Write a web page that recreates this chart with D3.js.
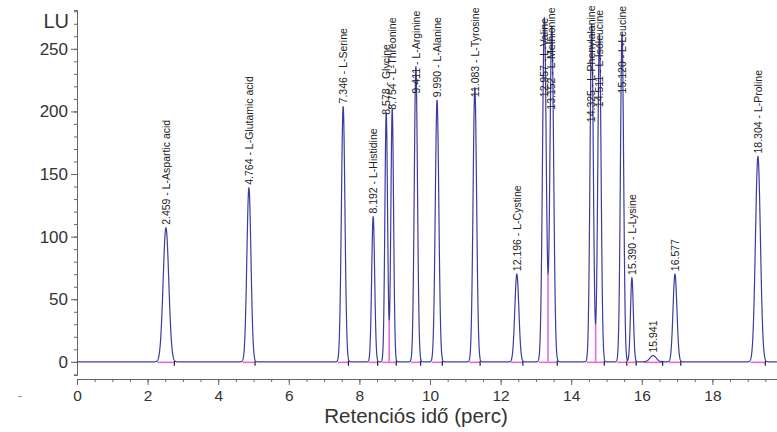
<!DOCTYPE html>
<html>
<head>
<meta charset="utf-8">
<script src="https://cdn.jsdelivr.net/npm/d3@7"></script>
<style>
  body { margin: 0; background: #fff; }
  svg { display: block; font-family: "Liberation Sans", Arial, sans-serif; }
</style>
</head>
<body>
<svg id="chart" width="777" height="432"></svg>
<script>
// peak list (position on the drawn time axis, height in LU, width as sigma in min)
const peakTimes   = [2.52, 4.87, 7.54, 8.39, 8.76, 8.93, 9.60, 10.20, 11.27, 12.46, 13.24, 13.45, 14.58, 14.80, 15.44, 15.72, 16.32, 16.94, 19.29];
const peakHeights = [107, 139, 204, 116, 199, 202, 236, 209, 219, 70, 275, 268, 270, 262, 262, 67, 5, 70, 164];
const peakSigmas  = [0.08, 0.058, 0.05, 0.042, 0.038, 0.038, 0.045, 0.05, 0.05, 0.057, 0.052, 0.052, 0.046, 0.046, 0.045, 0.04, 0.09, 0.055, 0.07];
const peakLabels  = [
  '2.459 - L-Aspartic acid', '4.764 - L-Glutamic acid', '7.346 - L-Serine', '8.192 - L-Histidine',
  '8.578 - Glycine', '8.754 - L-Threonine', '9.411 - L-Arginine', '9.990 - L-Alanine',
  '11.083 - L-Tyrosine', '12.196 - L-Cystine', '12.957 - L-Valine', '13.152 - L-Methionine',
  '14.325 - L-Phenylalanine', '14.511 - L-Isoleucine', '15.120 - L-Leucine', '15.390 - L-Lysine',
  '15.941', '16.577', '18.304 - L-Proline'
];
// level (LU) where each label starts; tall peaks carry their labels lower
const labelLevels = [107, 139, 204, 116, 195, 199, 212, 209, 209, 70, 209, 199, 189, 201, 212, 67, 5, 70, 164];
// peaks integrated together (drop line between them)
const peakGroups = [[0], [1], [2], [3], [4, 5], [6], [7], [8], [9], [10, 11], [12, 13], [14], [15], [16], [17], [18]];

const xTicks = d3.range(0, 19, 2);
const xMinor = d3.range(0, 19.9, 0.5);
const yTicks = [0, 50, 100, 150, 200, 250];
const yMinor = d3.range(-10, 281, 10);

const svg = d3.select('#chart');

// scales
const x = d3.scaleLinear().domain([0, 19.83]).range([77, 777]);
const y = d3.scaleLinear().domain([-10.5, 281]).range([375, 10]);

// signal = sum of the peaks
function signal(t) {
  let s = 0;
  for (let i = 0; i < peakTimes.length; i++) {
    const d = t - peakTimes[i];
    s += peakHeights[i] * Math.exp(-d * d / (2 * peakSigmas[i] * peakSigmas[i]));
  }
  return s;
}
const times = d3.range(0, 19.83, 0.004);
const trace = times.map(t => [t, signal(t)]);

// x axis (minor then major)
const xAxisY = 379;
svg.append('g')
  .attr('transform', `translate(0,${xAxisY})`)
  .call(d3.axisBottom(x).tickValues(xMinor).tickSize(3).tickFormat(''))
  .call(g => g.select('.domain').attr('stroke', '#666'))
  .call(g => g.selectAll('line').attr('stroke', '#666'));
svg.append('g')
  .attr('transform', `translate(0,${xAxisY})`)
  .call(d3.axisBottom(x).tickValues(xTicks).tickSize(6).tickPadding(5).tickFormat(d3.format('d')))
  .call(g => g.select('.domain').remove())
  .call(g => g.selectAll('line').attr('stroke', '#666'))
  .call(g => g.selectAll('text').attr('font-size', 15.5).attr('fill', '#333')
    .attr('font-family', '"Liberation Sans", Arial, sans-serif'));

// y axis
svg.append('g')
  .attr('transform', 'translate(77,0)')
  .call(d3.axisLeft(y).tickValues(yMinor).tickSize(3).tickFormat(''))
  .call(g => g.select('.domain').attr('stroke', '#666'))
  .call(g => g.selectAll('line').attr('stroke', '#666'));
svg.append('g')
  .attr('transform', 'translate(77,0)')
  .call(d3.axisLeft(y).tickValues(yTicks).tickSize(6).tickPadding(3))
  .call(g => g.select('.domain').remove())
  .call(g => g.selectAll('line').attr('stroke', '#666'))
  .call(g => g.selectAll('text').attr('font-size', 17).attr('fill', '#333')
    .attr('font-family', '"Liberation Sans", Arial, sans-serif'));

// unit label and axis title
svg.append('text')
  .attr('x', 69).attr('y', 28)
  .attr('text-anchor', 'end')
  .attr('font-size', 20)
  .attr('fill', '#333')
  .text('LU');
svg.append('text')
  .attr('x', 416).attr('y', 423)
  .attr('text-anchor', 'middle')
  .attr('font-size', 20.5)
  .attr('fill', '#333')
  .text('Retenciós idő (perc)');
svg.append('text')
  .attr('x', 20).attr('y', 401)
  .attr('text-anchor', 'middle')
  .attr('font-size', 14)
  .attr('fill', '#999')
  .text('-');

// integration baselines (pink) and drop lines
const pink = '#e46ccf';
const integ = svg.append('g');
peakGroups.forEach(g => {
  const first = g[0], last = g[g.length - 1];
  const t0 = peakTimes[first] - 3 * peakSigmas[first];
  const t1 = peakTimes[last] + 3 * peakSigmas[last];
  integ.append('line')
    .attr('x1', x(t0)).attr('x2', x(t1))
    .attr('y1', y(0) + 0.5).attr('y2', y(0) + 0.5)
    .attr('stroke', pink).attr('stroke-width', 1.6);
  for (let k = 0; k < g.length - 1; k++) {
    const a = peakTimes[g[k]], b = peakTimes[g[k + 1]];
    const seg = times.filter(t => t > a && t < b);
    const tv = d3.least(seg, t => signal(t));
    integ.append('line')
      .attr('x1', x(tv)).attr('x2', x(tv))
      .attr('y1', y(0)).attr('y2', y(signal(tv)))
      .attr('stroke', pink).attr('stroke-width', 1.6);
  }
  integ.append('line')
    .attr('x1', x(t1)).attr('x2', x(t1))
    .attr('y1', y(0) - 1).attr('y2', y(0) + 4)
    .attr('stroke', '#222').attr('stroke-width', 1.2);
});

// chromatogram trace
const line = d3.line().x(d => x(d[0])).y(d => y(d[1]));
svg.append('path')
  .datum(trace)
  .attr('fill', 'none')
  .attr('stroke', '#3c3ca0')
  .attr('stroke-width', 1.2)
  .attr('d', line);

// peak labels, vertical
svg.append('g')
  .selectAll('text')
  .data(peakLabels)
  .join('text')
    .attr('transform', (d, i) => `translate(${x(peakTimes[i])},${y(labelLevels[i]) - 3}) rotate(-90)`)
    .attr('dy', '0.35em')
    .attr('font-size', 10.5)
    .attr('fill', '#222')
    .text(d => d);
</script>
</body>
</html>
